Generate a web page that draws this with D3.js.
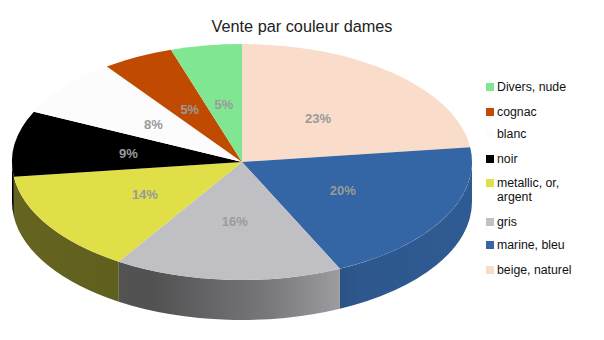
<!DOCTYPE html>
<html>
<head>
<meta charset="utf-8">
<script src="https://cdn.jsdelivr.net/npm/d3@7"></script>
<style>
  body { margin: 0; background: #fff; }
  text { font-family: "Liberation Sans", Arial, sans-serif; }
</style>
</head>
<body>
<div id="chart"></div>
<script>
// slices, clockwise from 12 o'clock
var categories = ["beige, naturel", "marine, bleu", "gris", "metallic, or, argent", "noir", "blanc", "cognac", "Divers, nude"];
var values = [23, 20, 16, 14, 9, 8, 5, 5];
var colors = ["#f9dcc9", "#3465a4", "#c0c0c4", "#e0df48", "#000000", "#fcfcfc", "#c04b00", "#81e691"];
// legend is listed in reverse order, with line breaks
var legendLabels = [["Divers, nude"], ["cognac"], ["blanc"], ["noir"], ["metallic, or,", "argent"], ["gris"], ["marine, bleu"], ["beige, naturel"]];
var title = "Vente par couleur dames";

var W = 604, H = 340;
var cx = 242, cy = 162, rx = 230, ry = 118, depth = 40;
var k = ry / rx;

var svg = d3.select("#chart").append("svg")
      .attr("width", W)
      .attr("height", H);

var defs = svg.append("defs");

svg.append("text")
      .attr("x", 302)
      .attr("y", 32)
      .attr("text-anchor", "middle")
      .style("font-size", "16.3px")
      .style("fill", "#222")
      .text(title);

var pie = d3.pie().sort(null).value(function (d) { return d; });
var arcsData = pie(values);

// group in "circle space", squashed vertically
var g = svg.append("g")
      .attr("transform", "translate(" + cx + "," + cy + ") scale(1," + k + ")");

var D = depth / k;  // depth in circle units

// side walls for the front half (angles pi/2 .. 3pi/2)
arcsData.forEach(function (d, i) {
      var a0 = Math.max(d.startAngle, Math.PI / 2);
      var a1 = Math.min(d.endAngle, 3 * Math.PI / 2);
      if (a1 <= a0) return;
      var base = d3.color(colors[i]);
      var gid = "side" + i;
      var grad = defs.append("linearGradient")
            .attr("id", gid)
            .attr("gradientUnits", "userSpaceOnUse")
            .attr("x1", -rx).attr("y1", 0)
            .attr("x2", rx).attr("y2", 0);
      [[0, 0.45], [0.3, 0.42], [0.55, 0.62], [0.75, 0.86], [1, 0.9]].forEach(function (s) {
            var c = d3.rgb(base.r * s[1], base.g * s[1], base.b * s[1]);
            grad.append("stop").attr("offset", s[0]).attr("stop-color", c.formatHex());
      });
      var p = d3.path();
      var s0 = a0 - Math.PI / 2, s1 = a1 - Math.PI / 2;
      p.moveTo(rx * Math.cos(s0), rx * Math.sin(s0));
      p.arc(0, 0, rx, s0, s1, false);
      p.lineTo(rx * Math.cos(s1), rx * Math.sin(s1) + D);
      p.arc(0, D, rx, s1, s0, true);
      p.closePath();
      g.append("path")
            .attr("d", p.toString())
            .attr("fill", "url(#" + gid + ")");
});

// top faces
var arc = d3.arc().innerRadius(0).outerRadius(rx);
g.selectAll(".slice")
      .data(arcsData)
      .enter()
      .append("path")
      .attr("class", "slice")
      .attr("d", arc)
      .attr("fill", function (d, i) { return colors[i]; });

// percentage labels
var labelArc = d3.arc().innerRadius(rx * 0.5).outerRadius(rx * 0.5);
svg.selectAll(".lbl")
      .data(arcsData)
      .enter()
      .append("text")
      .attr("class", "lbl")
      .attr("x", function (d) { return cx + labelArc.centroid(d)[0]; })
      .attr("y", function (d) { return cy + labelArc.centroid(d)[1] * k + 5; })
      .attr("text-anchor", "middle")
      .style("font-size", "13px")
      .style("font-weight", "bold")
      .style("fill", "#9a9a9a")
      .text(function (d) { return d.value + "%"; });

// legend
var legendColors = colors.slice().reverse();
var rowY = [87, 112, 134, 159, 183, 222, 245, 270];
var lg = svg.append("g");
legendLabels.forEach(function (lines, i) {
      lg.append("rect")
            .attr("x", 486)
            .attr("y", rowY[i] - 4)
            .attr("width", 8)
            .attr("height", 8)
            .attr("fill", legendColors[i]);
      var t = lg.append("text")
            .attr("x", 497)
            .attr("y", rowY[i] + 4)
            .style("font-size", "12.3px")
            .style("fill", "#111");
      lines.forEach(function (l, j) {
            t.append("tspan")
                  .attr("x", 497)
                  .attr("dy", j === 0 ? 0 : 14)
                  .text(l);
      });
});
</script>
</body>
</html>
